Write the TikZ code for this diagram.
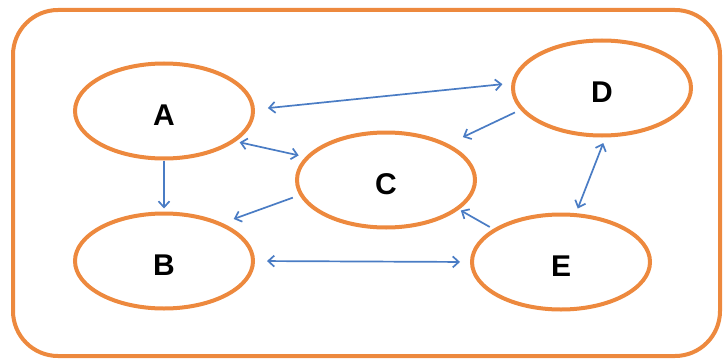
\documentclass[tikz,border=0pt]{standalone}
\usepackage{fontspec}
\setmainfont{Liberation Sans}
\usetikzlibrary{shapes.geometric,arrows.meta}
\definecolor{ringorange}{RGB}{237,137,62}
\definecolor{linkblue}{RGB}{74,124,196}
\tikzset{
  state/.style={ellipse, draw=ringorange, line width=4pt, minimum width=178pt,
    minimum height=95pt, inner sep=0pt, text height=28pt, text depth=0pt,
    font=\fontsize{30}{30}\selectfont\bfseries},
  barb/.tip={Straight Barb[length=6pt,width=11pt,line width=1.7pt]},
  link/.style={draw=linkblue, line width=1.7pt, -barb},
  duallink/.style={draw=linkblue, line width=1.7pt, barb-barb}
}
\begin{document}
\begin{tikzpicture}[x=1pt,y=-1pt]
  \useasboundingbox (0,0) rectangle (727,361);
  % frame around the whole graph
  \draw[ringorange, line width=4pt, rounded corners=45pt] (13,10) rectangle (720,356);

  % states
  \node[state] (A) at (164,111) {A};
  \node[state] (B) at (164,261) {B};
  \node[state] (C) at (386,180) {C};
  \node[state] (D) at (602,88)  {D};
  \node[state] (E) at (561,262) {E};

  % transitions
  \draw[duallink, shorten <=13pt, shorten >=9pt] (A.1) -- (D.177);
  \draw[duallink, shorten <=4pt, shorten >=7pt] (A.-23) -- (C.164);
  \draw[link, shorten >=3pt] (A.south) -- (B.north);
  \draw[link, shorten <=7pt, shorten >=12pt] (C.190) -- (B.33);
  \draw[duallink, shorten <=12pt, shorten >=10pt] (B.east) -- (E.west);
  \draw[link, shorten <=4pt, shorten >=2pt] (E.154) -- (C.-22);
  \draw[link, shorten <=6pt, shorten >=16pt] (D.195) -- (C.30);
  \draw[duallink, shorten <=6pt, shorten >=5pt] (D.-86) -- (E.73);
\end{tikzpicture}
\end{document}
